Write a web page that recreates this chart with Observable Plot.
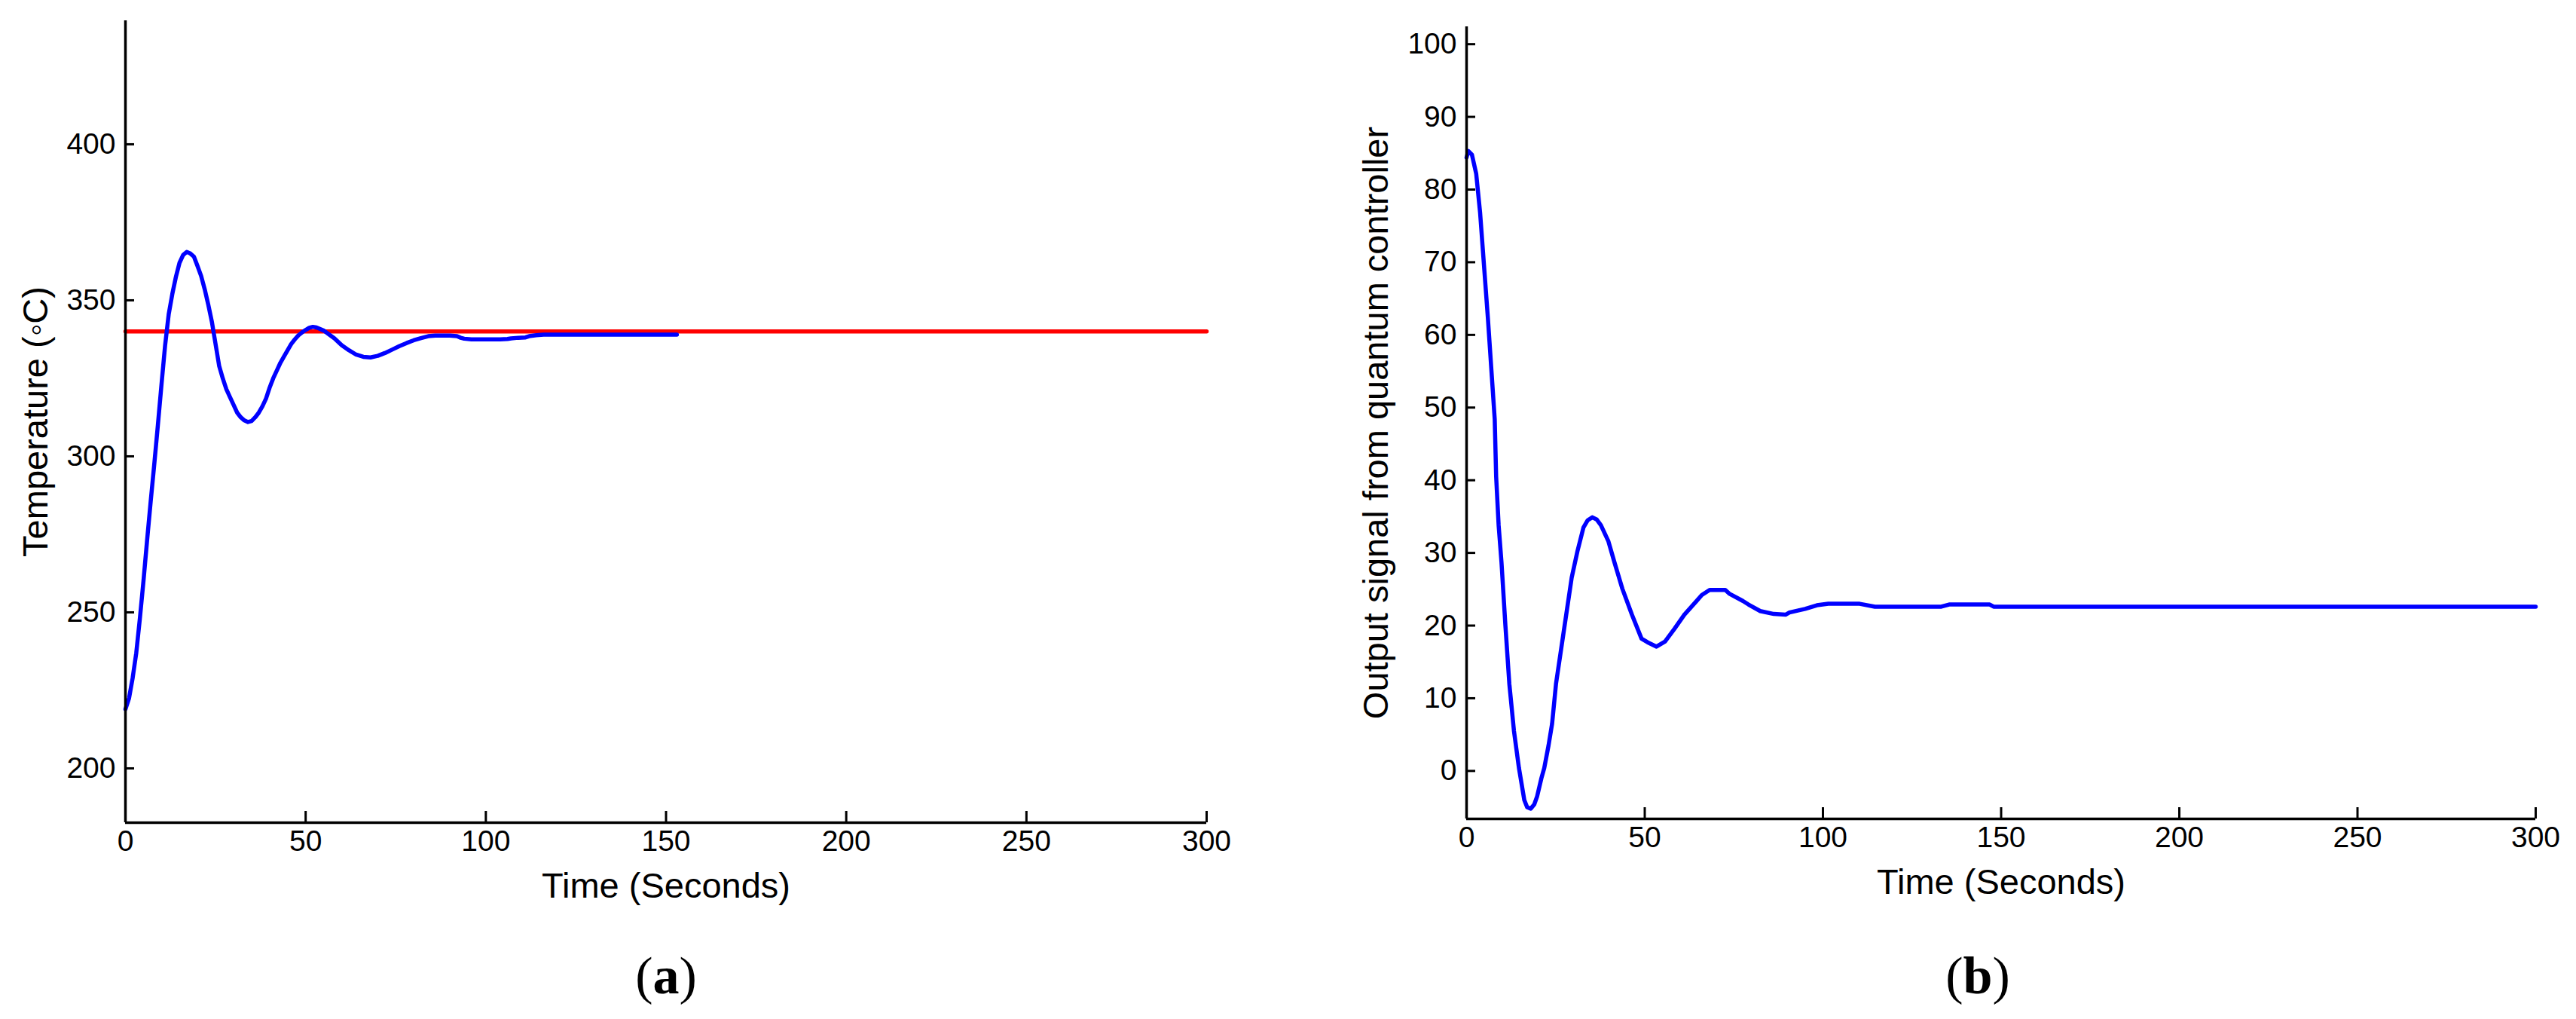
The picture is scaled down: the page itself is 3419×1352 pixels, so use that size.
<!DOCTYPE html>
<html><head><meta charset="utf-8">
<script src="https://cdn.jsdelivr.net/npm/d3@7"></script>
<script src="https://cdn.jsdelivr.net/npm/@observablehq/plot@0.6"></script>
<style>
html,body{margin:0;padding:0;background:#fff}
body{width:3419px;height:1352px;position:relative;overflow:hidden;font-family:"Liberation Sans",Arial,sans-serif;color:#000}
.panel{position:absolute;top:0}
.cap{position:absolute;top:1295px;font-family:"Liberation Serif","Times New Roman",serif;font-size:70px;line-height:1;transform:translate(-50%,-50%);white-space:nowrap}
</style></head><body>
<div id="pa" class="panel" style="left:0px"></div>
<div id="pb" class="panel" style="left:1700px"></div>
<div class="cap" style="left:884px">(<b>a</b>)</div>
<div class="cap" style="left:2625px">(<b>b</b>)</div>
<script>
// ---- data ----
const timeA = [0,1,2,3,4,5,6,7,8,9,10,11,12,13,14,15,16,17,18,19,20,21,22,23,24,25,26,27,28,29,30,31,32,33,34,35,36,37,38,39,40,41,42,43,44,45,46,47,48,49,50,51,52,53,54,55,56,58,60,62,64,66,68,70,72,74,76,78,80,82,84,86,88,90,92,93,94,96,100,104,106,107,109,111,112,114,116,120,130,140,153];
const tempA = [219,222.5,229,237,248,260,273,285.5,297.5,310,323,335.5,345.5,352,357.5,362,364.5,365.5,365,364,361,357.8,353.5,348.5,343,336,329,325,321.5,319,316.5,314,312.5,311.5,311,311.3,312.5,314,316,318.5,322,325,327.5,330,332,334,336,337.5,338.8,339.7,340.5,341.2,341.5,341.3,340.8,340.3,339.5,337.8,335.6,334,332.6,331.9,331.7,332.2,333.1,334.2,335.3,336.3,337.2,337.9,338.5,338.7,338.7,338.7,338.5,338,337.7,337.5,337.5,337.5,337.6,337.8,338,338.1,338.5,338.8,339,339,339,339,339];
const setTime = [0,300];
const setTemp = [340,340];

const timeB = [0,0.5,1.5,2.7,3.8,4.9,6.0,7.1,7.9,8.3,9.0,9.8,10.9,12.0,13.3,14.7,16.2,17.0,18.0,19.0,19.8,21.0,21.8,23.0,24.0,25.1,27.3,29.5,31.1,32.8,34.0,35.3,36.5,37.7,39.8,41.5,43.7,46.4,49.1,50.8,53.3,55.7,58.4,61.1,64.4,66.0,68.2,72.6,73.7,77.5,79.1,82.4,86.2,89.5,90.6,95.0,98.3,101.5,110.3,114.6,133.2,135.4,146.8,147.9,300];
const signalB = [84.4,85.3,84.8,82.2,76.8,69.5,62.2,54.2,48.4,40.5,33.8,28.7,20,12,5.5,0.4,-4,-5,-5.2,-4.6,-3.5,-1,0.4,3.5,6.5,12,19.3,26.6,30.2,33.5,34.5,34.9,34.6,33.8,31.6,28.7,25.1,21.5,18.2,17.7,17.1,17.8,19.6,21.5,23.3,24.2,24.9,24.9,24.4,23.4,22.9,22.0,21.6,21.5,21.8,22.3,22.8,23.0,23.0,22.6,22.6,22.9,22.9,22.6,22.6];

const xTicks = [0,50,100,150,200,250,300];
const yTicksA = [200,250,300,350,400];
const yTicksB = [0,10,20,30,40,50,60,70,80,90,100];
const xDomain = [0,300];
const yDomainA = [182.6,439.6];
const yDomainB = [-6.6,102.4];
const xLabel = "Time (Seconds)";
const yLabelA = "Temperature (\u25E6C)";
const yLabelB = "Output signal from quantum controller";

// ---- build ----
const seriesA = timeA.map((t,i)=>({t, v: tempA[i]}));
const seriesSet = setTime.map((t,i)=>({t, v: setTemp[i]}));
const seriesB = timeB.map((t,i)=>({t, v: signalB[i]}));

const font = '"Liberation Sans", Arial, sans-serif';
const tickFont = 39, labelFont = 47, axisW = 3.5;

function panel({width, height, margins, yDomain, yTicks, yLabel, lines, xLabDy, yLabDx}) {
  return Plot.plot({
    width, height,
    marginLeft: margins[0], marginRight: margins[1], marginTop: margins[2], marginBottom: margins[3],
    style: {fontFamily: font, fontSize: tickFont + "px", background: "#fff", color: "#000", overflow: "visible"},
    x: {domain: xDomain},
    y: {domain: yDomain},
    marks: [
      ...lines.map(l => Plot.line(l.data, {x: "t", y: "v", stroke: l.color, strokeWidth: 5.5, strokeLinejoin: "round", strokeLinecap: "round"})),
      Plot.ruleX([xDomain[0]], {stroke: "#000", strokeWidth: axisW}),
      Plot.ruleY([yDomain[0]], {stroke: "#000", strokeWidth: axisW}),
      Plot.axisX(xTicks, {tickSize: -15, tickPadding: 25, strokeWidth: 3, fontSize: tickFont, label: null, tickFormat: d => String(d)}),
      Plot.axisY(yTicks, {tickSize: -12, tickPadding: 25, strokeWidth: 3, fontSize: tickFont, label: null, tickFormat: d => String(d)}),
      Plot.text([xLabel], {frameAnchor: "bottom", dy: xLabDy, text: d => d, fontSize: labelFont, textAnchor: "middle", lineAnchor: "middle"}),
      Plot.text([yLabel], {frameAnchor: "left", dx: yLabDx, text: d => d, fontSize: labelFont, rotate: -90, textAnchor: "middle", lineAnchor: "middle"})
    ]
  });
}

document.getElementById("pa").append(panel({
  width: 1700, height: 1220, margins: [166, 99, 27, 129],
  yDomain: yDomainA, yTicks: yTicksA, yLabel: yLabelA,
  lines: [{data: seriesSet, color: "#ff0000"}, {data: seriesA, color: "#0000ff"}],
  xLabDy: 84, yLabDx: -119
}));
document.getElementById("pb").append(panel({
  width: 1719, height: 1220, margins: [246, 54, 35, 134],
  yDomain: yDomainB, yTicks: yTicksB, yLabel: yLabelB,
  lines: [{data: seriesB, color: "#0000ff"}],
  xLabDy: 84, yLabDx: -120
}));
</script>
</body></html>
